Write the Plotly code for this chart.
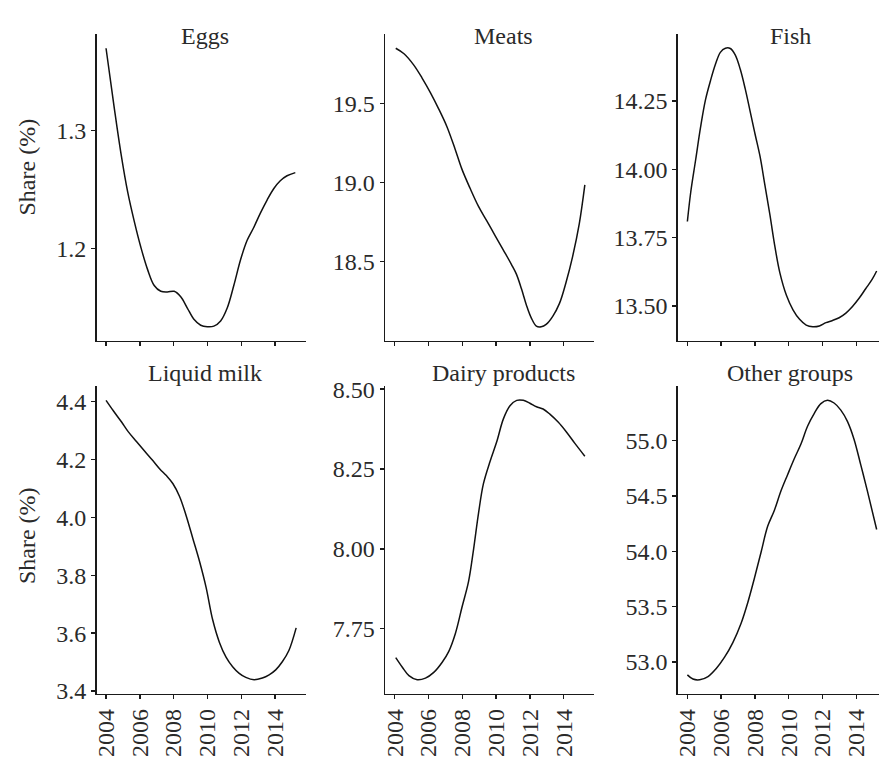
import plotly.graph_objects as go

W, H = 879, 765

# ---- data (year, share %) ----
eggs_x = [2004.0, 2004.49, 2004.88, 2005.28, 2005.67, 2006.06, 2006.46, 2006.85, 2007.24, 2007.63,
          2008.03, 2008.42, 2008.81, 2009.2, 2009.6, 2009.99, 2010.38, 2010.78, 2011.17, 2011.56,
          2011.96, 2012.35, 2012.74, 2013.14, 2013.53, 2013.92, 2014.31, 2014.71, 2015.2]
eggs_y = [1.370, 1.319, 1.281, 1.248, 1.223, 1.201, 1.182, 1.1685, 1.1636, 1.1630,
          1.1636, 1.159, 1.1494, 1.1398, 1.1348, 1.1335, 1.134, 1.1384, 1.1494, 1.1685,
          1.1904, 1.2069, 1.2178, 1.2302, 1.2411, 1.2507, 1.2575, 1.2617, 1.2644]

meats_x = [2004.06, 2004.55, 2005.13, 2005.62, 2006.11, 2006.6, 2007.09, 2007.58, 2007.97, 2008.46,
           2008.95, 2009.44, 2009.93, 2010.42, 2010.91, 2011.2, 2011.5, 2011.79, 2012.08, 2012.38,
           2012.67, 2012.96, 2013.35, 2013.75, 2014.14, 2014.53, 2014.92, 2015.25]
meats_y = [19.850, 19.815, 19.743, 19.661, 19.569, 19.466, 19.353, 19.209, 19.086, 18.963,
           18.850, 18.758, 18.665, 18.573, 18.480, 18.419, 18.326, 18.224, 18.142, 18.090,
           18.086, 18.101, 18.152, 18.234, 18.368, 18.532, 18.737, 18.984]

fish_x = [2004.0, 2004.2, 2004.49, 2004.78, 2005.07, 2005.37, 2005.66, 2005.95, 2006.25, 2006.54,
          2006.83, 2007.13, 2007.42, 2007.71, 2008.0, 2008.3, 2008.59, 2008.88, 2009.18, 2009.47,
          2009.86, 2010.25, 2010.64, 2011.03, 2011.42, 2011.81, 2012.2, 2012.59, 2012.98, 2013.38,
          2013.77, 2014.16, 2014.55, 2014.94, 2015.2]
fish_y = [13.809, 13.917, 14.035, 14.154, 14.254, 14.325, 14.384, 14.428, 14.443, 14.442,
          14.419, 14.366, 14.295, 14.213, 14.130, 14.047, 13.941, 13.835, 13.717, 13.622,
          13.539, 13.486, 13.451, 13.430, 13.424, 13.427, 13.439, 13.447, 13.457, 13.474,
          13.498, 13.528, 13.563, 13.598, 13.628]

milk_x = [2004.0, 2004.43, 2004.92, 2005.31, 2005.8, 2006.29, 2006.78, 2007.18, 2007.57, 2007.96,
          2008.35, 2008.75, 2009.14, 2009.53, 2009.92, 2010.31, 2010.71, 2011.1, 2011.49, 2011.88,
          2012.27, 2012.76, 2013.25, 2013.65, 2014.04, 2014.43, 2014.82, 2015.25]
milk_y = [4.404, 4.368, 4.329, 4.296, 4.262, 4.228, 4.195, 4.167, 4.144, 4.116,
          4.072, 4.004, 3.926, 3.848, 3.758, 3.646, 3.568, 3.517, 3.484, 3.461,
          3.447, 3.439, 3.445, 3.456, 3.473, 3.501, 3.540, 3.618]

dairy_x = [2004.06, 2004.45, 2004.84, 2005.33, 2005.82, 2006.31, 2006.8, 2007.2, 2007.59, 2007.98,
           2008.37, 2008.67, 2008.96, 2009.25, 2009.65, 2010.04, 2010.43, 2010.82, 2011.22, 2011.61,
           2012.0, 2012.39, 2012.78, 2013.18, 2013.67, 2014.16, 2014.65, 2015.25]
dairy_y = [7.659, 7.629, 7.603, 7.590, 7.595, 7.613, 7.644, 7.679, 7.735, 7.817,
           7.898, 8.000, 8.112, 8.204, 8.275, 8.336, 8.407, 8.448, 8.465, 8.465,
           8.456, 8.445, 8.438, 8.422, 8.397, 8.366, 8.331, 8.290]

other_x = [2004.0, 2004.33, 2004.73, 2005.22, 2005.71, 2006.2, 2006.69, 2007.18, 2007.58, 2007.97,
           2008.36, 2008.75, 2009.15, 2009.54, 2009.93, 2010.33, 2010.72, 2011.11, 2011.51, 2011.9,
           2012.29, 2012.68, 2013.08, 2013.47, 2013.86, 2014.26, 2014.65, 2015.2]
other_y = [52.882, 52.844, 52.838, 52.867, 52.940, 53.042, 53.174, 53.349, 53.539, 53.758,
           53.991, 54.225, 54.371, 54.546, 54.692, 54.838, 54.969, 55.130, 55.247, 55.334,
           55.364, 55.340, 55.276, 55.174, 55.013, 54.780, 54.546, 54.196]

titles = ["Eggs", "Meats", "Fish", "Liquid milk", "Dairy products", "Other groups"]
y_ticks = [[1.2, 1.3], [18.5, 19.0, 19.5], [13.50, 13.75, 14.00, 14.25],
           [3.4, 3.6, 3.8, 4.0, 4.2, 4.4], [7.75, 8.00, 8.25, 8.50], [53.0, 53.5, 54.0, 54.5, 55.0]]
y_formats = [".1f", ".1f", ".2f", ".1f", ".2f", ".1f"]
x_ticks = [2004, 2006, 2008, 2010, 2012, 2014]
x_tick_text = ["2004", "2006", "2008", "2010", "2012", "2014"]
y_title = "Share (%)"

series = [(eggs_x, eggs_y), (meats_x, meats_y), (fish_x, fish_y),
          (milk_x, milk_y), (dairy_x, dairy_y), (other_x, other_y)]

# ---- layout geometry (pixels) ----
col_px = [(93, 303), (383, 593), (677, 879)]
row_px = [(25, 340), (387, 703)]
title_cx = [202, 502, 790]
title_cy = [27, 373]
FONT = "Liberation Serif"
FS = 24
TXT = "#2a2a2a"

x_lo, x_hi = 2003.44, 2015.81
px_per_year = (col_px[0][1] - col_px[0][0]) / (x_hi - x_lo)

fig = go.Figure()
layout = dict(width=W, height=H, margin=dict(l=0, r=0, t=0, b=0),
              paper_bgcolor="white", plot_bgcolor="white", showlegend=False,
              font=dict(family=FONT, size=FS, color=TXT))
annotations = []

for i, (xs, ys) in enumerate(series):
    r, c = divmod(i, 3)
    k = "" if i == 0 else str(i + 1)
    fig.add_trace(go.Scatter(x=xs, y=ys, mode="lines",
                             line=dict(color="#111", width=1.5, shape="spline", smoothing=1.0),
                             xaxis="x" + k, yaxis="y" + k, hoverinfo="skip"))
    x0, x1 = col_px[c]
    y0, y1 = row_px[r]
    xr_hi = x_lo + (x1 - x0) / px_per_year
    ymin, ymax = min(ys), max(ys)
    pad = 0.05 * (ymax - ymin)
    layout["xaxis" + k] = dict(domain=[x0 / W, x1 / W], range=[x_lo, xr_hi], anchor="y" + k,
                               showline=True, linecolor="#1a1a1a", linewidth=1.6, mirror=False,
                               ticks="outside", ticklen=4, tickwidth=1.4, tickcolor="#1a1a1a",
                               tickvals=x_ticks, ticktext=x_tick_text, showticklabels=(r == 1),
                               tickangle=-90, showgrid=False, zeroline=False,
                               tickfont=dict(family=FONT, size=FS, color=TXT))
    layout["yaxis" + k] = dict(domain=[1 - y1 / H, 1 - y0 / H], range=[ymin - pad, ymax + pad],
                               anchor="x" + k, showline=True, linecolor="#1a1a1a", linewidth=1.6,
                               ticks="outside", ticklen=4, tickwidth=1.4, tickcolor="#1a1a1a",
                               tickvals=y_ticks[i], tickformat=y_formats[i], showgrid=False,
                               zeroline=False, tickfont=dict(family=FONT, size=FS, color=TXT))
    annotations.append(dict(text=titles[i], x=title_cx[c] / W, y=1 - title_cy[r] / H,
                            xref="paper", yref="paper", xanchor="center", yanchor="middle",
                            showarrow=False, font=dict(family=FONT, size=FS, color=TXT)))

for cy in [161, 540]:
    annotations.append(dict(text=y_title, x=23 / W, y=1 - cy / H, xref="paper", yref="paper",
                            xanchor="center", yanchor="middle", textangle=-90, showarrow=False,
                            font=dict(family=FONT, size=FS, color=TXT)))

layout["annotations"] = annotations
fig.update_layout(**layout)
fig.write_html("out.html", config={"displayModeBar": False, "staticPlot": True},
               post_script="document.body.style.margin='0px';document.body.style.overflow='hidden';")
